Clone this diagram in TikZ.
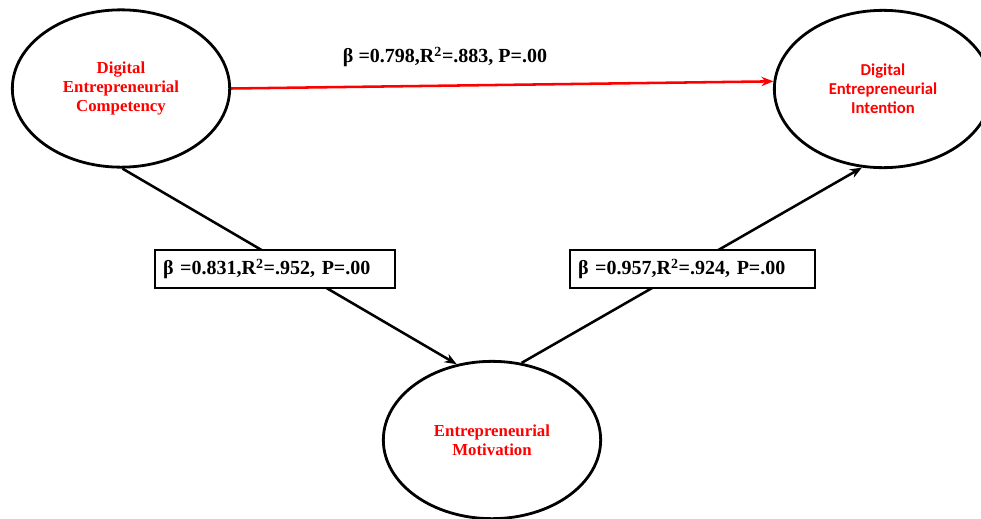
\documentclass[tikz,border=0pt]{standalone}
\usepackage{fontspec}
\setmainfont{Liberation Serif}
\newfontfamily\calib{Carlito}
\usepackage{tikz}
\usetikzlibrary{arrows.meta,shapes.geometric}
\definecolor{lvred}{RGB}{255,0,0}

\begin{document}
\begin{tikzpicture}[x=0.75pt,y=-0.75pt,
      lv/.style={draw,ellipse,line width=2.1pt,minimum width=163pt,minimum height=118pt,
        inner sep=0pt,text=lvred,font=\fontsize{12.6}{14.3}\selectfont\bfseries,align=center},
      coef/.style={draw,line width=1.5pt,fill=white,minimum height=28.5pt,
        inner xsep=6pt,align=left,font=\fontsize{15}{16}\selectfont\bfseries},
      path/.style={line width=1.9pt,-{Stealth[length=9pt,width=7pt]}}]
      \useasboundingbox (0,0) rectangle (981,518);
      \node[lv] (dec) at (121,88.5) {Digital\\Entrepreneurial\\Competency};
      \node[lv,font=\fontsize{12.5}{14.3}\selectfont\calib\bfseries] (dei) at (883,89) {Digital\\Entrepreneurial\\Intention};
      \node[lv] (em) at (492,440) {Entrepreneurial\\Motivation};
      \draw[path,lvred] (dec.east) -- (dei.176);
      \draw[path] (dec.271) -- (em.115);
      \draw[path] (em.69) -- (dei.255);
      \node[coef,text width=168pt] (b1) at (275,269) {β =0.831,R\textsuperscript{2}=.952, P=.00};
      \node[coef,text width=171.75pt] (b2) at (692.5,269) {β =0.957,R\textsuperscript{2}=.924, P=.00};
      \node[font=\fontsize{15}{16}\selectfont\bfseries] (b0) at (445,57) {β =0.798,R\textsuperscript{2}=.883, P=.00};
    \end{tikzpicture}
\end{document}
